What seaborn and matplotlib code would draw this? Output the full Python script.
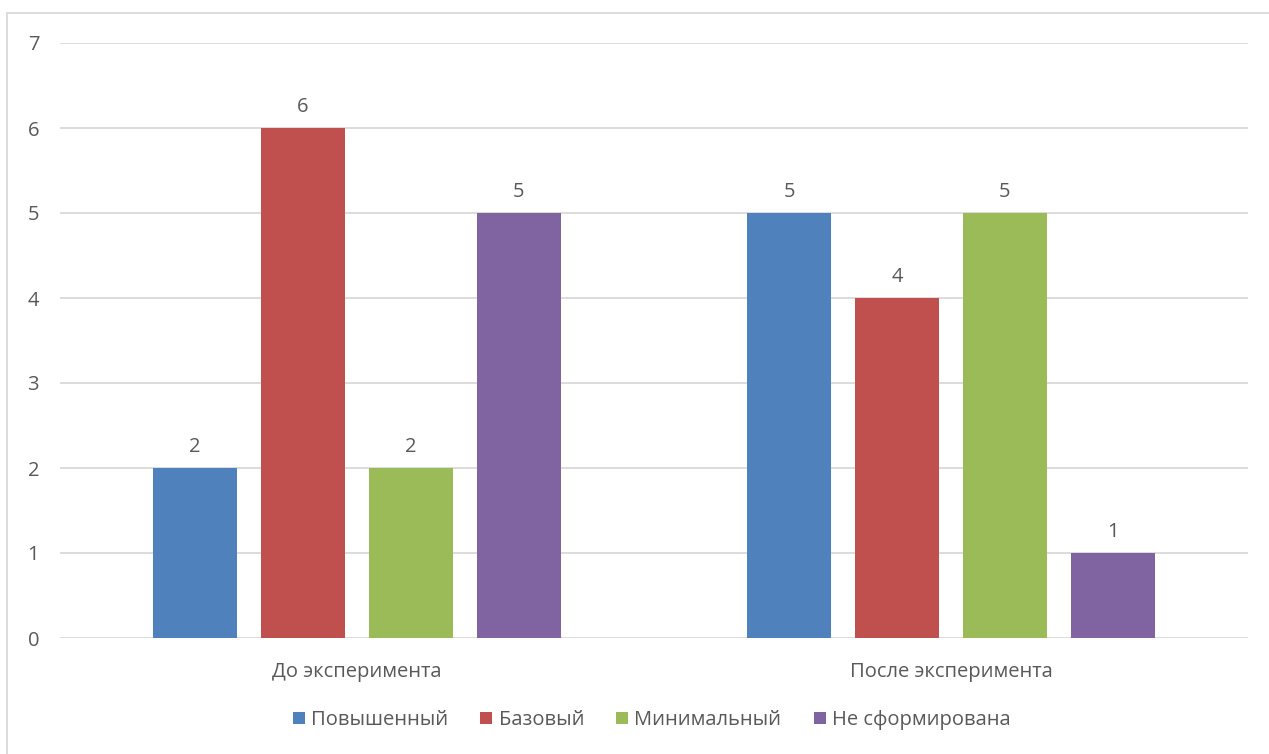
import matplotlib
matplotlib.use("Agg")
import matplotlib.pyplot as plt
import seaborn as sns
import pandas as pd

# Data
groups = ["До эксперимента", "После эксперимента"]
levels = ["Повышенный", "Базовый", "Минимальный", "Не сформирована"]
before = [2, 6, 2, 5]
after = [5, 4, 5, 1]
colors = ["#4F81BD", "#C0504D", "#9BBB59", "#8064A2"]

df = pd.DataFrame({
    "group": [groups[0]] * 4 + [groups[1]] * 4,
    "level": levels * 2,
    "value": before + after,
})

sns.set_style("white")
plt.rcParams['font.family'] = ['Open Sans', 'DejaVu Sans']
text_color = "#595959"
fs = 14.5

fig = plt.figure(figsize=(12.69, 7.54), dpi=100)
ax = fig.add_axes([60 / 1269, 1 - 638 / 754, 1188 / 1269, 595 / 754])

sns.barplot(data=df, x="group", y="value", hue="level", hue_order=levels,
            palette=colors, width=0.727, gap=0.222, saturation=1,
            linewidth=0, ax=ax, legend=True, zorder=3)

for c in ax.containers:
    ax.bar_label(c, padding=8, fontsize=fs, color=text_color)

ax.set_ylim(0, 7)
ax.set_yticks(range(8))
ax.set_xlim(-0.5, 1.5)
ax.yaxis.grid(True, color="#D9D9D9", linewidth=1.3, zorder=0)
ax.set_axisbelow(True)
for s in ax.spines.values():
    s.set_visible(False)
ax.tick_params(axis="both", length=0, labelsize=fs, labelcolor=text_color)
ax.tick_params(axis="y", pad=15)
ax.tick_params(axis="x", pad=17)
ax.set_xlabel("")
ax.set_ylabel("")

handles, labels = ax.get_legend_handles_labels()
ax.legend(handles, labels, loc="center", bbox_to_anchor=(0.498, -0.138),
          ncol=4, frameon=False, fontsize=fs, labelcolor=text_color,
          handlelength=0.6, handleheight=0.6, handletextpad=0.3,
          columnspacing=1.6)

# outer chart border (cropped at right and bottom)
border = plt.Rectangle((7 / 1269, -0.1), 1.2, 1 - 13 / 754 + 0.1,
                       transform=fig.transFigure, fill=False,
                       edgecolor="#D9D9D9", linewidth=1.3)
fig.patches.append(border)

fig.savefig("out.png", dpi=100)
